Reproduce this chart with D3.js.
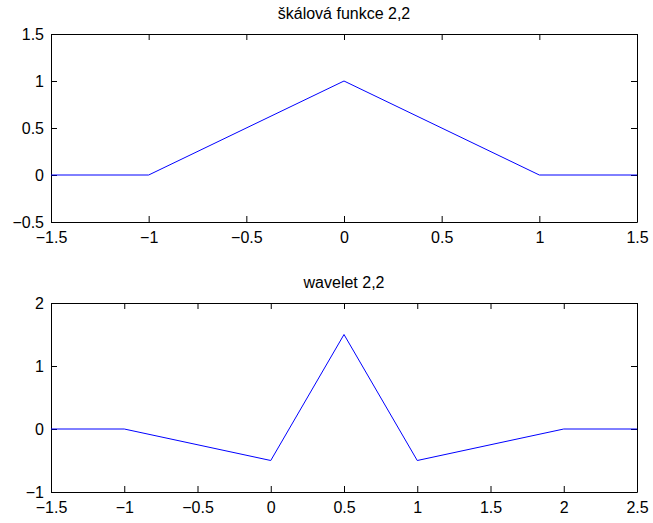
<!DOCTYPE html>
<html>
<head>
<meta charset="utf-8">
<script src="https://cdn.jsdelivr.net/npm/d3@7"></script>
<style>
  body { margin: 0; background: #fff; }
  svg { display: block; }
  .tick text { font-family: "Liberation Sans", Arial, sans-serif; font-size: 16px; fill: #000; }
</style>
</head>
<body>
<svg id="chart" width="653" height="523"></svg>
<script>
// scaling function 2,2
let scaleX = [-1.5, -1, 0, 1, 1.5];
let scaleY = [0, 0, 1, 0, 0];
let scaleXTicks = [-1.5, -1, -0.5, 0, 0.5, 1, 1.5];
let scaleYTicks = [-0.5, 0, 0.5, 1, 1.5];

// wavelet 2,2
let waveX = [-1.5, -1, 0, 0.5, 1, 2, 2.5];
let waveY = [0, 0, -0.5, 1.5, -0.5, 0, 0];
let waveXTicks = [-1.5, -1, -0.5, 0, 0.5, 1, 1.5, 2, 2.5];
let waveYTicks = [-1, 0, 1, 2];

let titles = ["škálová funkce 2,2", "wavelet 2,2"];

let svg = d3.select("#chart");
let fmt = d3.format("~g");

function subplot(top, bottom, xs, ys, xTicks, yTicks, xDom, yDom, title) {
    let left = 51, right = 637;
    let x = d3.scaleLinear().domain(xDom).range([left, right]);
    let y = d3.scaleLinear().domain(yDom).range([bottom, top]);

    let g = svg.append("g");

    // bottom + left axes with labels, ticks pointing inside
    g.append("g")
        .attr("transform", "translate(0," + bottom + ")")
        .call(d3.axisBottom(x).tickValues(xTicks).tickFormat(fmt).tickSizeInner(-6).tickSizeOuter(0).tickPadding(10));
    g.append("g")
        .attr("transform", "translate(" + left + ",0)")
        .call(d3.axisLeft(y).tickValues(yTicks).tickFormat(fmt).tickSizeInner(-6).tickSizeOuter(0).tickPadding(7));
    // mirrored ticks on top + right
    g.append("g")
        .attr("transform", "translate(0," + top + ")")
        .call(d3.axisTop(x).tickValues(xTicks).tickFormat("").tickSizeInner(-6).tickSizeOuter(0));
    g.append("g")
        .attr("transform", "translate(" + right + ",0)")
        .call(d3.axisRight(y).tickValues(yTicks).tickFormat("").tickSizeInner(-6).tickSizeOuter(0));

    g.selectAll(".domain").attr("stroke", "#000");
    g.selectAll(".tick line").attr("stroke", "#000");

    let line = d3.line().x(d => x(d[0])).y(d => y(d[1]));
    g.append("path")
        .datum(xs.map((v, i) => [v, ys[i]]))
        .attr("d", line)
        .attr("fill", "none")
        .attr("stroke", "#0000ff")
        .attr("stroke-width", 1);

    g.append("text")
        .attr("x", (left + right) / 2)
        .attr("y", top - 15)
        .attr("text-anchor", "middle")
        .style("font-family", "Liberation Sans, Arial, sans-serif")
        .style("font-size", "16px")
        .text(title);
}

subplot(34, 222, scaleX, scaleY, scaleXTicks, scaleYTicks, [-1.5, 1.5], [-0.5, 1.5], titles[0]);
subplot(303, 492, waveX, waveY, waveXTicks, waveYTicks, [-1.5, 2.5], [-1, 2], titles[1]);
</script>
</body>
</html>
